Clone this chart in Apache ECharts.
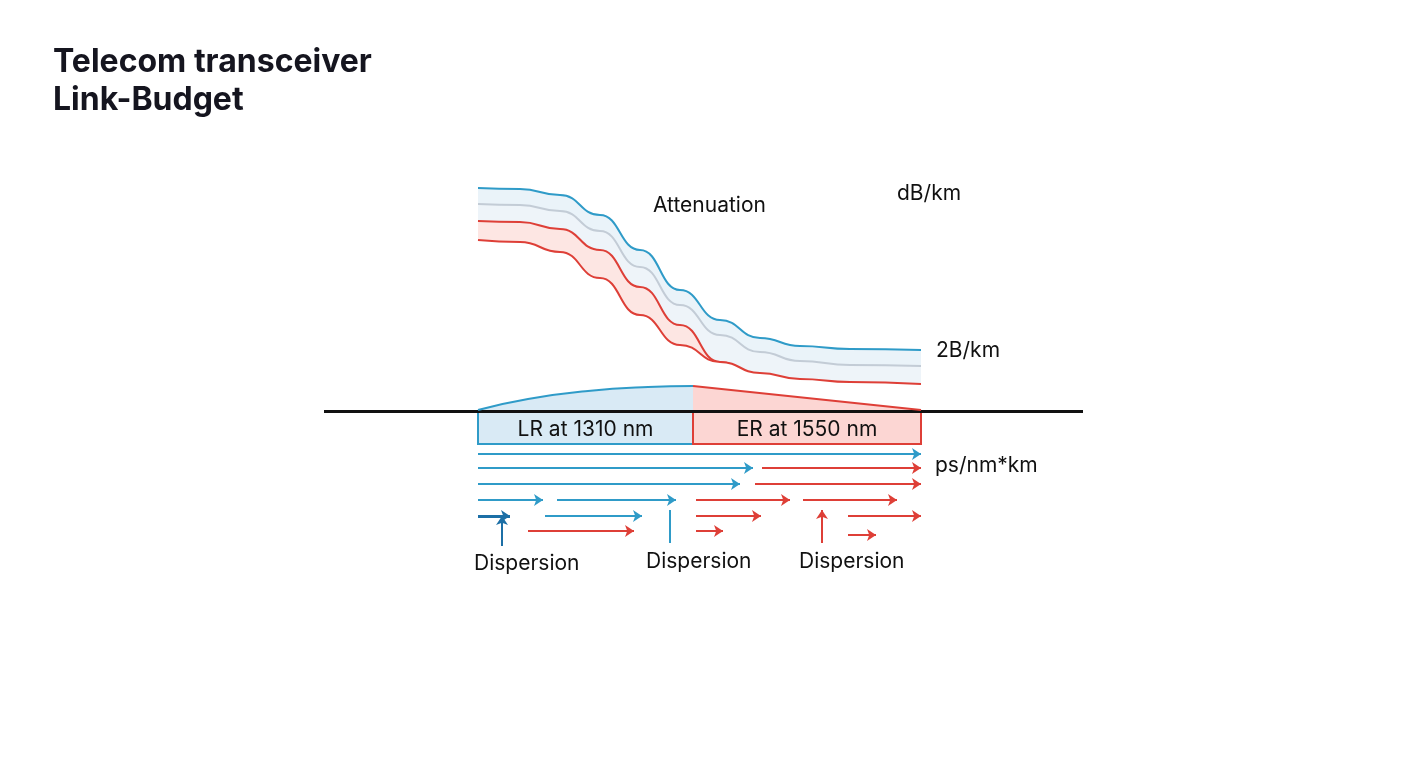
<!DOCTYPE html>
<html>
<head>
<meta charset="utf-8">
<script src="https://cdn.jsdelivr.net/npm/echarts@6/dist/echarts.min.js"></script>
<style>html,body{margin:0;background:#fff}#c{width:1408px;height:768px}</style>
</head>
<body>
<div id="c"></div>
<script>
// 坐标单位：x 为链路方向位置，y 为衰减 / 色散行（均为示意单位）
const curveX = [0, 42, 82, 122, 162, 202, 242, 282, 322, 372, 443];
const blueTop = [412, 411, 405, 385, 350, 310, 280, 262, 254, 251, 250];
const grayMid = [396, 395, 389, 369, 333, 295, 265, 248, 239, 235, 234];
const redUpper = [379, 378, 371, 350, 313, 275, 238, 222, 217, 215, 214];
const redLower = [360, 358, 348, 322, 285, 255, 238, 227, 221, 218, 216];

// 波段盒子 [x0, x1, yTop, yBottom, 名称]
const bands = [
  [0, 215, 188, 156, 'LR at 1310 nm'],
  [215, 443, 188, 156, 'ER at 1550 nm']
];
const lrDome = [[0, 190], [50, 201], [110, 209], [170, 213], [215, 214], [215, 189], [0, 189]];
const erDome = [[215, 214], [443, 190], [443, 189], [215, 189]];

// 色散箭头 [x0, y, x1]
const blueArrows = [[0, 146, 443], [0, 132, 275], [0, 116, 262], [0, 100, 65], [79, 100, 198], [67, 84, 164]];
const darkArrows = [[0, 84, 32]];
const redArrows = [[284, 132, 443], [277, 116, 443], [218, 100, 312], [325, 100, 419],
  [218, 84, 283], [370, 84, 443], [50, 69, 156], [218, 69, 245], [370, 65, 398]];
// 竖线 [x, y0, y1, 类型]
const verticals = [[24, 54, 84, 'dark'], [192, 57, 90, 'plain'], [344, 57, 90, 'red']];

const BLUE = '#2f9bc8', DARK = '#1c6fa6', RED = '#de3f37', GRAY = '#c3ccd6';
const pts = arr => curveX.map((x, i) => [x, arr[i]]);

const chart = echarts.init(document.getElementById('c'));

function curve(data, color, fill, z) {
  return {
    type: 'line', data: pts(data), smooth: true, smoothMonotone: 'x', symbol: 'none', z: z,
    lineStyle: { color: color, width: 2 },
    areaStyle: { color: fill, opacity: 1 }
  };
}
function arrowLines(list, color, width) {
  return {
    type: 'lines', coordinateSystem: 'cartesian2d', z: 10,
    symbol: ['none', 'arrow'], symbolSize: 9,
    lineStyle: { color: color, width: width, opacity: 1 },
    data: list.map(a => ({ coords: [[a[0], a[1]], [a[2], a[1]]] }))
  };
}
function polygon(points, fill, z) {
  return {
    type: 'custom', z: z, data: [0],
    renderItem: (p, api) => ({
      type: 'polygon',
      shape: { points: points.map(q => api.coord(q)) },
      style: { fill: fill }
    })
  };
}
function label(text, left, top) {
  return { type: 'text', left: left, top: top, z: 100,
    style: { text: text, fontSize: 21, fill: '#111', fontFamily: 'Inter' } };
}

const vertColor = { dark: DARK, plain: BLUE, red: RED };

chart.setOption({
  animation: false,
  grid: { left: 0, right: 0, top: 0, bottom: 0 },
  xAxis: { type: 'value', min: -478, max: 930, show: false },
  yAxis: { type: 'value', min: -168, max: 600, show: false },
  series: [
    curve(blueTop, BLUE, '#eaf3f9', 1),
    curve(grayMid, GRAY, '#eef4f9', 2),
    curve(redUpper, RED, '#fde6e3', 3),
    curve(redLower, RED, '#ffffff', 4),
    polygon(lrDome, '#d9eaf5', 5),
    polygon(erDome, '#fcd6d3', 5),
    {
      type: 'custom', z: 6, data: bands,
      renderItem: (p, api) => {
        const b = bands[p.dataIndex];
        const a = api.coord([b[0], b[2]]), c = api.coord([b[1], b[3]]);
        const lr = p.dataIndex === 0;
        return {
          type: 'group', children: [
            { type: 'rect', shape: { x: a[0], y: a[1], width: c[0] - a[0], height: c[1] - a[1] },
              style: { fill: lr ? '#d9eaf5' : '#fcd6d3', stroke: lr ? BLUE : RED, lineWidth: 2 } },
            { type: 'text', style: { x: (a[0] + c[0]) / 2, y: (a[1] + c[1]) / 2 + 2, text: b[4],
              align: 'center', verticalAlign: 'middle', fill: '#111', fontSize: 21, fontFamily: 'Inter' } }
          ]
        };
      }
    },
    {
      type: 'lines', coordinateSystem: 'cartesian2d', z: 7, symbol: 'none',
      lineStyle: { color: '#111', width: 3, opacity: 1 },
      data: [{ coords: [[-154, 189], [605, 189]] }]
    },
    {
      type: 'line', z: 7, symbol: 'none', data: [[0, 190], [50, 201], [110, 209], [170, 213], [215, 214]],
      smooth: true, lineStyle: { color: BLUE, width: 2 }
    },
    {
      type: 'line', z: 7, symbol: 'none', data: [[215, 214], [443, 190]],
      lineStyle: { color: RED, width: 2 }
    },
    arrowLines(blueArrows, BLUE, 2),
    arrowLines(darkArrows, DARK, 3),
    arrowLines(redArrows, RED, 2),
    {
      type: 'lines', coordinateSystem: 'cartesian2d', z: 10, symbolSize: 9,
      data: verticals.map(v => ({
        coords: [[v[0], v[1]], [v[0], v[2]]],
        symbol: ['none', v[3] === 'plain' ? 'none' : 'arrow'],
        lineStyle: { color: vertColor[v[3]], width: 2, opacity: 1 }
      }))
    }
  ],
  graphic: [
    { type: 'text', left: 53, top: 43, z: 100, style: { text: 'Telecom transceiver\nLink-Budget', fontSize: 32,
      lineHeight: 38, fontWeight: 'bold', fill: '#15151f', fontFamily: 'Inter' } },
    label('Attenuation', 653, 195),
    label('dB/km', 897, 183),
    label('2B/km', 936, 340),
    label('ps/nm*km', 935, 455),
    label('Dispersion', 474, 553),
    label('Dispersion', 646, 551),
    label('Dispersion', 799, 551)
  ]
});
</script>
</body>
</html>
